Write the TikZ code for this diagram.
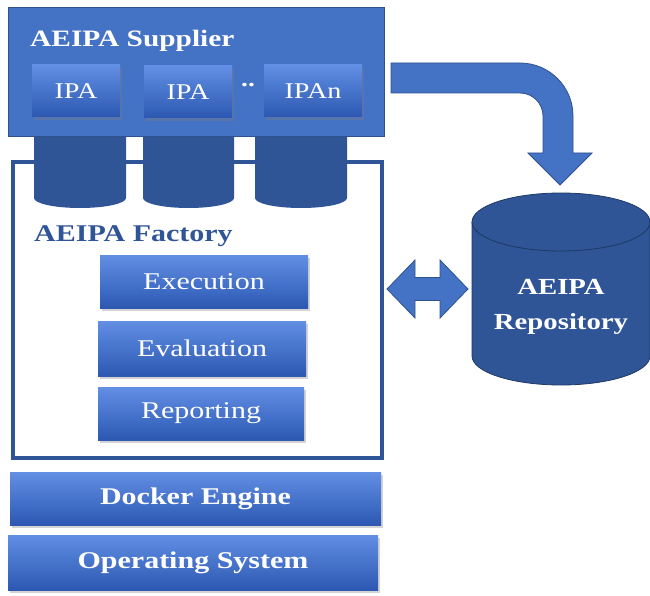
\documentclass[tikz,border=0pt]{standalone}
\usepackage{fontspec}
\setmainfont[FakeStretch=1.25]{Liberation Serif}
\usetikzlibrary{shadows}
\definecolor{supfill}{RGB}{68,114,196}
\definecolor{supedge}{RGB}{47,82,143}
\definecolor{dkblue}{RGB}{47,85,151}
\definecolor{dkedge}{RGB}{31,56,100}
\definecolor{gtop}{RGB}{98,143,228}
\definecolor{gbot}{RGB}{44,88,178}
\tikzset{
  gbox/.style={rectangle, top color=gtop, bottom color=gbot, draw=none,
    text=white, inner sep=0pt,
    drop shadow={opacity=0.35, shadow xshift=2pt, shadow yshift=-3pt}},
  regtxt/.style={font=\fontsize{24}{28}\selectfont},
  boldtxt/.style={font=\bfseries\fontsize{24}{28}\selectfont},
  blockarrow/.style={fill=supfill, draw=supedge, line width=0.8pt},
  cyl/.style={fill=dkblue, draw=none}
}
\begin{document}
\begin{tikzpicture}[x=1pt,y=-1pt]
\useasboundingbox (0,0) rectangle (650,596);
% factory frame
\draw[dkblue, line width=4pt] (12.5,162) rectangle (381.5,458);
\coordinate (fr) at (381.5,289);
% cylinders under supplier
\foreach \cx/\w in {80/92,188.5/91,301/92}{
  \fill[dkblue] (\cx-\w/2,130) -- (\cx-\w/2,198) arc[start angle=180,end angle=360,x radius=\w/2,y radius=-10] -- (\cx+\w/2,130) -- cycle;
}
% supplier box
\node[rectangle, fill=supfill, draw=supedge, line width=1pt, minimum width=376pt, minimum height=129pt, inner sep=0pt] (sup) at (196,72.5) {};
\node[boldtxt, text=white, anchor=base west, inner sep=0pt, font=\bfseries\fontsize{23.5}{28}\selectfont] (suptitle) at (30,47) {AEIPA Supplier};
\node[gbox, minimum width=88pt, minimum height=52pt, font=\fontsize{22.5}{26}\selectfont] (ipa1) at (76,91) {IPA};
\node[gbox, minimum width=88pt, minimum height=52pt, font=\fontsize{22.5}{26}\selectfont] (ipa2) at (188,92) {IPA};
\node[gbox, minimum width=98pt, minimum height=52pt, font=\fontsize{22.5}{26}\selectfont] (ipa3) at (313,91) {IPAn};
\node[text=white, anchor=base, inner sep=0pt, font=\bfseries\fontsize{22}{26}\selectfont] (dots) at (248,87) {..};
% factory
\node[boldtxt, text=dkblue, anchor=base west, inner sep=0pt] (factitle) at (34,241) {AEIPA Factory};
\node[gbox, regtxt, minimum width=208pt, minimum height=53pt] (exe) at (204,281.5) {Execution};
\node[gbox, regtxt, minimum width=208pt, minimum height=55pt] (eva) at (202,348.5) {Evaluation};
\node[gbox, regtxt, minimum width=206pt, minimum height=53pt] (rep) at (201,413.5) {Reporting};
% docker / os
\node[gbox, boldtxt, minimum width=371pt, minimum height=53pt] (docker) at (195.5,498.5) {Docker Engine};
\node[gbox, boldtxt, minimum width=370pt, minimum height=55pt] (os) at (193,562.5) {Operating System};
% repository cylinder
\fill[dkblue] (472,222) -- (472,356) arc[start angle=180,end angle=360,x radius=89,y radius=-29] -- (650,222) -- cycle;
\draw[dkedge, line width=0.8pt] (472,222) -- (472,356) arc[start angle=180,end angle=360,x radius=89,y radius=-29] -- (650,222);
\draw[dkedge, line width=0.8pt, fill=dkblue] (561,222) ellipse[x radius=89, y radius=29];
\node[boldtxt, text=white, align=center, font=\bfseries\fontsize{23}{35}\selectfont] (repo) at (561,307) {AEIPA\\Repository};
\coordinate (repoL) at (472,289);
% bent arrow supplier -> repository
\path[blockarrow] (391,63) -- (520,63) .. controls (549.3,63) and (573,86.7) .. (573,116) -- (573,153) -- (592,153) -- (560,185) -- (528,153) -- (543,153) -- (543,116) .. controls (543,103.3) and (532.7,93) .. (520,93) -- (391,93) -- cycle;
% double arrow factory <-> repository
\path[blockarrow] (387,289) -- (415,260) -- (415,277.5) -- (440,277.5) -- (440,260) -- (468,289) -- (440,318) -- (440,300.5) -- (415,300.5) -- (415,318) -- cycle;
\end{tikzpicture}
\end{document}
